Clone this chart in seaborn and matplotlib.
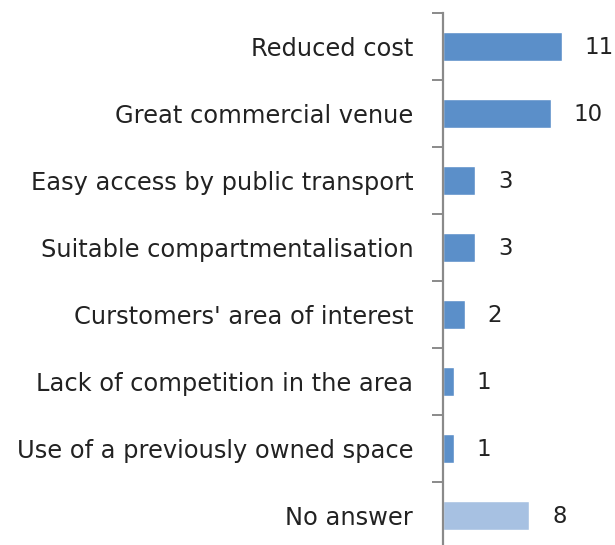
import matplotlib
matplotlib.use("Agg")
import matplotlib.pyplot as plt
import seaborn as sns
import pandas as pd
import numpy as np

categories = [
    "Reduced cost",
    "Great commercial venue",
    "Easy access by public transport",
    "Suitable compartmentalisation",
    "Curstomers' area of interest",
    "Lack of competition in the area",
    "Use of a previously owned space",
    "No answer",
]
counts = [11, 10, 3, 3, 2, 1, 1, 8]
bar_colors = ["#5b8fc9"] * 7 + ["#a7c1e2"]

sns.set_theme(style="white")
plt.rcParams["font.family"] = ["DejaVu Sans"]

df = pd.DataFrame({"reason": categories, "count": counts})

fig = plt.figure(figsize=(6.15, 5.45), dpi=100)
ax = fig.add_axes([443 / 615, -4 / 545, 170 / 615, 536 / 545])

sns.barplot(data=df, y="reason", x="count", hue="reason", palette=bar_colors,
            order=categories, hue_order=categories, legend=False,
            width=0.42, orient="h", ax=ax, saturation=1)

ax.set_xlim(0, 170 / 10.8)
ax.set_ylim(len(categories) - 0.5, -0.5)
ax.set_xlabel("")
ax.set_ylabel("")
ax.set_xticks([])

for sp in ["top", "right", "bottom"]:
    ax.spines[sp].set_visible(False)
ax.spines["left"].set_color("#8a8a8a")
ax.spines["left"].set_linewidth(1.6)

ax.set_yticks(range(len(categories)))
ax.set_yticklabels(categories, fontsize=17.4, color="#222222")
ax.tick_params(axis="y", which="major", length=0, pad=21.5)
ax.set_yticks(np.arange(-0.5, len(categories), 1.0), minor=True)
ax.tick_params(axis="y", which="minor", length=8, width=1.4, color="#8a8a8a", left=True)

for i, v in enumerate(counts):
    ax.text(v + 2.1, i + 0.02, str(v), va="center", ha="left", fontsize=16.5, color="#222222")

fig.savefig("out.png", dpi=100)
